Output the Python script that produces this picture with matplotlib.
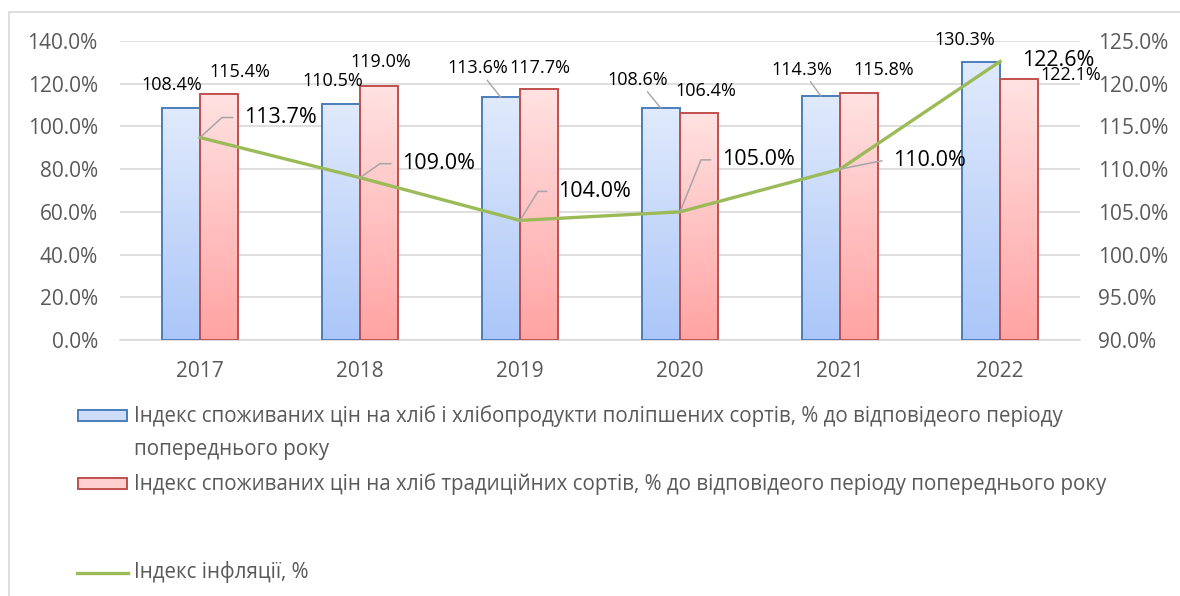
import numpy as np
import matplotlib
matplotlib.use("Agg")
import matplotlib.pyplot as plt
from matplotlib.patches import Rectangle
from matplotlib.lines import Line2D
from matplotlib.colors import LinearSegmentedColormap

# ---------------- data ----------------
years = ['2017', '2018', '2019', '2020', '2021', '2022']
improved = [108.4, 110.5, 113.6, 108.6, 114.3, 130.3]
traditional = [115.4, 119.0, 117.7, 106.4, 115.8, 122.1]
inflation = [113.7, 109.0, 104.0, 105.0, 110.0, 122.6]
left_ticks = [0, 20, 40, 60, 80, 100, 120, 140]
right_ticks = [90, 95, 100, 105, 110, 115, 120, 125]
legend_labels = [
    'Індекс споживаних цін на хліб і хлібопродукти поліпшених сортів, % до відповідеого періоду\nпопереднього року',
    'Індекс споживаних цін на хліб традиційних сортів, % до відповідеого періоду попереднього року',
    'Індекс інфляції, %',
]

# ---------------- label placement (pixel offsets) ----------------
blue_off = [(-9, 23), (-8, 23), (-23, 29), (-23, 28), (-19, 26), (-16, 22)]
blue_leader = [False, False, True, True, True, False]
red_off = [(21, 22), (2, 24), (1, 21), (7, 22), (25, 23), (52, 4)]
line_off = [(44, 20), (42, 14), (38, 29), (42, 52), (53, 9), (22, 1)]
line_corner = [22, 20, 18, 21, 45, None]

plt.rcParams['font.family'] = ['Open Sans', 'DejaVu Sans']
W, H = 1180, 596
fig = plt.figure(figsize=(W / 100, H / 100), dpi=100)

# outer chart border
fig.patches.append(Rectangle((9 / W, -0.05), 1.2, 1 - 12 / H + 0.05, transform=fig.transFigure,
                             fill=False, edgecolor='#d9d9d9', lw=1.2))

ax = fig.add_axes([120 / W, (H - 340) / H, 960 / W, 299 / H])
ax.patch.set_alpha(0)
ax2 = ax.twinx()

x = np.arange(len(years))
bw = 0.24
grey_txt = '#595959'

blue_cmap = LinearSegmentedColormap.from_list('b', ['#abc6f8', '#e0eafc'])
red_cmap = LinearSegmentedColormap.from_list('r', ['#ffa3a3', '#ffe2e2'])
grad = np.linspace(0, 1, 256).reshape(-1, 1)

bars_b = ax.bar(x - bw / 2, improved, bw, facecolor='none', edgecolor='#4a7ebb', lw=1.4, zorder=4)
bars_r = ax.bar(x + bw / 2, traditional, bw, facecolor='none', edgecolor='#c0504d', lw=1.4, zorder=4)
for bars, cmap in ((bars_b, blue_cmap), (bars_r, red_cmap)):
    for b in bars:
        x0, w, h = b.get_x(), b.get_width(), b.get_height()
        ax.imshow(grad, extent=[x0, x0 + w, 0, h], origin='lower', aspect='auto', cmap=cmap, zorder=3)

ax.set_xlim(-0.5, len(years) - 0.5)
ax.set_ylim(0, 140)
ax.set_yticks(left_ticks)
ax.set_yticklabels([f'{v:.1f}%' for v in left_ticks])
ax.set_xticks(x)
ax.set_xticklabels(years)
ax.yaxis.grid(True, color='#d9d9d9', lw=1.2, zorder=0)
ax.set_axisbelow(True)
for s in ['top', 'left', 'right']:
    ax.spines[s].set_visible(False)
ax.spines['bottom'].set_color('#d9d9d9')
ax.spines['bottom'].set_linewidth(1.2)
ax.tick_params(axis='y', length=0, labelsize=15, labelcolor=grey_txt, pad=16)
ax.tick_params(axis='x', length=0, labelsize=15, labelcolor=grey_txt, pad=15)

ax2.plot(x, inflation, color='#9bbb59', lw=2.4, zorder=5, solid_joinstyle='round')
ax2.set_ylim(90, 125)
ax2.set_yticks(right_ticks)
ax2.set_yticklabels([f'{v:.1f}%' for v in right_ticks])
for s in ax2.spines.values():
    s.set_visible(False)
ax2.tick_params(axis='y', length=0, labelsize=15, labelcolor=grey_txt, pad=13)

# bar labels
for i in range(len(years)):
    b = bars_b[i]
    bx = b.get_x() + b.get_width() / 2
    ap = dict(arrowstyle='-', color='#a6a6a6', lw=1, shrinkA=0, shrinkB=0) if blue_leader[i] else None
    ax.annotate(f'{improved[i]:.1f}%', xy=(bx, improved[i]), xytext=blue_off[i],
                textcoords='offset pixels', ha='center', va='center', fontsize=13,
                color='black', arrowprops=ap, zorder=6)
    r = bars_r[i]
    rx = r.get_x() + r.get_width() / 2
    ax.annotate(f'{traditional[i]:.1f}%', xy=(rx, traditional[i]), xytext=red_off[i],
                textcoords='offset pixels', ha='center', va='center', fontsize=13,
                color='black', zorder=6)

# line labels
for i in range(len(years)):
    dx, dy = line_off[i]
    if line_corner[i] is not None:
        ang = np.degrees(np.arctan2(dy, line_corner[i]))
        ap = dict(arrowstyle='-', color='#a6a6a6', lw=1.1, shrinkA=6, shrinkB=0,
                  connectionstyle=f'angle,angleA=0,angleB={ang:.1f},rad=0')
    else:
        ap = None
    ax2.annotate(f'{inflation[i]:.1f}%', xy=(x[i], inflation[i]), xytext=(dx, dy),
                 textcoords='offset pixels', ha='left', va='center', fontsize=15.5,
                 color='black', arrowprops=ap, zorder=7)

# legend (manual)
def fx(px):
    return px / W

def fy(py):
    return 1 - py / H

leg_fs = 14.8
fig.patches.append(Rectangle((fx(78), fy(421)), 49 / W, 11 / H, transform=fig.transFigure,
                             facecolor='#cfddf9', edgecolor='#4a7ebb', lw=1.4))
lines1 = legend_labels[0].split('\n')
fig.text(fx(134), fy(416), lines1[0], ha='left', va='center', fontsize=leg_fs, color=grey_txt)
fig.text(fx(134), fy(449), lines1[1], ha='left', va='center', fontsize=leg_fs, color=grey_txt)
fig.patches.append(Rectangle((fx(78), fy(489)), 49 / W, 11 / H, transform=fig.transFigure,
                             facecolor='#ffd0d0', edgecolor='#c0504d', lw=1.4))
fig.text(fx(134), fy(484), legend_labels[1], ha='left', va='center', fontsize=leg_fs, color=grey_txt)
fig.lines.append(Line2D([fx(77), fx(128)], [fy(573), fy(573)], transform=fig.transFigure,
                        color='#9bbb59', lw=2.4))
fig.text(fx(134), fy(572), legend_labels[2], ha='left', va='center', fontsize=leg_fs, color=grey_txt)

fig.savefig('out.png', dpi=100)
